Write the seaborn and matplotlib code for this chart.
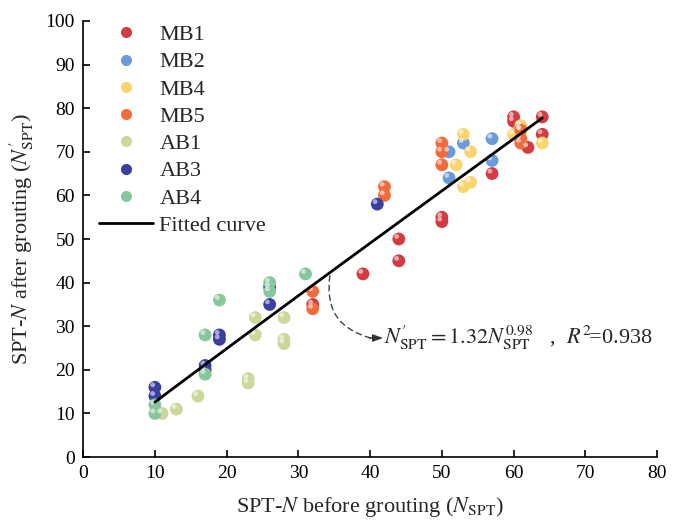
import numpy as np
import pandas as pd
import matplotlib
matplotlib.use("Agg")
import matplotlib.pyplot as plt
import matplotlib.transforms as mtransforms
from matplotlib.lines import Line2D
import seaborn as sns

# SPT-N values before (x) and after (y) grouting, per borehole
mb1_x = [64, 60, 60, 64, 62, 57, 50, 50, 44, 44, 39, 32]
mb1_y = [78, 78, 77, 74, 71, 65, 55, 54, 50, 45, 42, 35]
mb2_x = [57, 57, 51, 53, 51]
mb2_y = [73, 68, 70, 72, 64]
mb4_x = [53, 54, 52, 53, 54, 60, 61, 61, 64]
mb4_y = [74, 70, 67, 62, 63, 74, 76, 75, 72]
mb5_x = [50, 50, 50, 61, 61, 61, 42, 42, 32, 32]
mb5_y = [72, 70, 67, 75, 73, 72, 62, 60, 38, 34]
ab1_x = [24, 28, 24, 28, 28, 23, 23, 16, 13, 11]
ab1_y = [32, 32, 28, 27, 26, 18, 17, 14, 11, 10]
ab3_x = [41, 26, 26, 19, 19, 17, 17, 10, 10]
ab3_y = [58, 35, 39, 28, 27, 21, 20, 16, 14]
ab4_x = [31, 26, 26, 19, 17, 17, 10, 10]
ab4_y = [42, 40, 38, 36, 28, 19, 12, 10]

groups = ["MB1", "MB2", "MB4", "MB5", "AB1", "AB3", "AB4"]
colors = ["#d23b40", "#6b9bdb", "#fad56f", "#f26b3a", "#cbd89c", "#3b3fa0", "#88c79c"]

# power-law fit N' = a * N^b
fit_a, fit_b = 1.32, 0.98
fit_range = (10, 64)
r2 = 0.938

xs = [mb1_x, mb2_x, mb4_x, mb5_x, ab1_x, ab3_x, ab4_x]
ys = [mb1_y, mb2_y, mb4_y, mb5_y, ab1_y, ab3_y, ab4_y]
df = pd.concat(
    [pd.DataFrame({"before": x, "after": y, "site": g}) for g, x, y in zip(groups, xs, ys)],
    ignore_index=True,
)

sns.set_style("ticks")
plt.rcParams["font.family"] = ["Liberation Serif", "DejaVu Serif"]
plt.rcParams["mathtext.fontset"] = "stix"

fig = plt.figure(figsize=(6.76, 5.23), dpi=100)
ax = fig.add_axes([0.123, 0.126, 0.849, 0.834])

palette = dict(zip(groups, colors))
sns.scatterplot(data=df, x="before", y="after", hue="site", hue_order=groups,
                palette=palette, s=85, edgecolor="none", linewidth=0, ax=ax, zorder=3)

# small glossy highlight on each ball
hl = mtransforms.offset_copy(ax.transData, fig=fig, x=-1.6, y=1.8, units="points")
ax.scatter(df["before"], df["after"], s=12, color="white", alpha=0.55,
           edgecolor="none", transform=hl, zorder=4)

nfit = np.linspace(fit_range[0], fit_range[1], 100)
fit_df = pd.DataFrame({"before": nfit, "after": fit_a * nfit ** fit_b})
sns.lineplot(data=fit_df, x="before", y="after", color="black", lw=2,
             label="Fitted curve", ax=ax, zorder=5)

ax.set_xlim(0, 80)
ax.set_ylim(0, 100)
ax.set_xticks(range(0, 81, 10))
ax.set_yticks(range(0, 101, 10))
ax.tick_params(direction="in", length=5, width=1.2, labelsize=14, colors="black", pad=6)
for sp in ["left", "bottom"]:
    ax.spines[sp].set_linewidth(1.2)
    ax.spines[sp].set_color("black")
sns.despine(ax=ax)

ax.set_xlabel(r"SPT-$N$ before grouting ($N_{\mathrm{SPT}}$)", fontsize=16, labelpad=9)
ax.set_ylabel(r"SPT-$N$ after grouting ($N^{\prime}_{\mathrm{SPT}}$)", fontsize=16, labelpad=7)

handles, labels = ax.get_legend_handles_labels()
new_handles = []
for h, l in zip(handles, labels):
    if l in palette:
        new_handles.append(Line2D([], [], marker="o", ls="none", markersize=8,
                                  markerfacecolor=palette[l], markeredgecolor="none"))
    else:
        new_handles.append(Line2D([], [], color="black", lw=2))
ax.legend(new_handles, labels, loc="upper left", bbox_to_anchor=(0.005, 1.022),
          frameon=False, fontsize=16, handlelength=2.4, handletextpad=0.3,
          labelspacing=0.3, borderaxespad=0.2)

# dashed leader from the curve to the equation
ax.annotate("", xy=(40.1, 27.3), xytext=(34.4, 41.6),
            arrowprops=dict(arrowstyle="-", ls=(0, (4, 3)), lw=1, color="#444444",
                            connectionstyle="arc3,rad=0.45", shrinkA=0, shrinkB=0))
ax.annotate("", xy=(41.8, 27.3), xytext=(39.9, 27.3),
            arrowprops=dict(arrowstyle="-|>,head_length=0.6,head_width=0.22",
                            lw=1, color="#333333", shrinkA=0, shrinkB=0))
ax.text(41.9, 27.3,
        r"$N^{\prime}_{\mathrm{SPT}}=1.32N_{\mathrm{SPT}}^{0.98}$" + "   ,  " + r"$R^2\!$=0.938",
        fontsize=16, va="center", ha="left")

fig.savefig("out.png", dpi=100)
